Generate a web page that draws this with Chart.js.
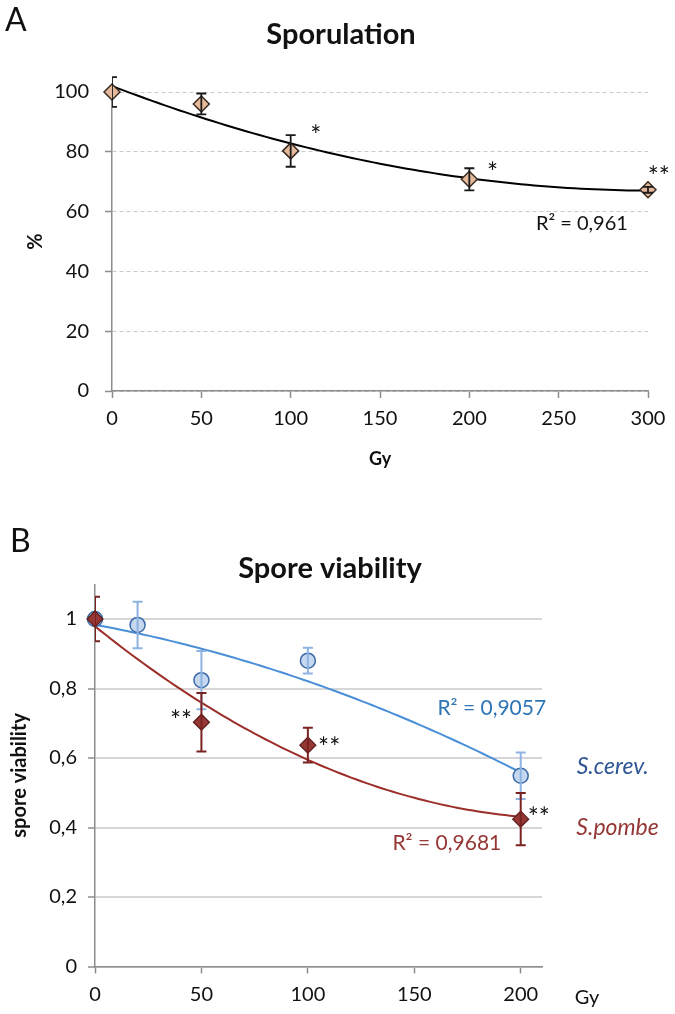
<!DOCTYPE html>
<html><head><meta charset="utf-8">
<script src="https://cdn.jsdelivr.net/npm/chart.js@4.4.1/dist/chart.umd.min.js"></script>
<style>
html,body{margin:0;padding:0;background:#fff;}
#wrap{position:relative;width:675px;height:1014px;overflow:hidden;background:#fff;}
canvas{position:absolute;left:0;}
#cA{top:0;} #cB{top:500px;}
</style></head><body>
<div id="wrap"><canvas id="cA" width="675" height="500"></canvas><canvas id="cB" width="675" height="514"></canvas></div>
<script>
// ---------- DATA ----------
const sporDose = [0, 50, 100, 200, 300];
const sporPct = [100, 96, 80.3, 70.8, 67.3];
const sporErr = [5, 3.5, 5.3, 3.7, 1];
const sporXTicks = [0, 50, 100, 150, 200, 250, 300];
const sporYTicks = [0, 20, 40, 60, 80, 100];

const cerevDose = [0, 20, 50, 100, 200];
const cerevViab = [1, 0.983, 0.824, 0.88, 0.549];
const cerevErr = [0, 0.067, 0.084, 0.037, 0.067];
const pombeDose = [0, 50, 100, 200];
const pombeViab = [1, 0.703, 0.637, 0.424];
const pombeErr = [0.064, 0.084, 0.05, 0.075];
const viabXTicks = [0, 50, 100, 150, 200];
const viabYTicks = [0, 0.2, 0.4, 0.6, 0.8, 1];

// ---------- HELPERS ----------
const FONT = 'Lato, "Open Sans", sans-serif';
function polyFit2(xs, ys) {
  const s = [0,0,0,0,0], t = [0,0,0];
  for (let i = 0; i < xs.length; i++) {
    let p = 1;
    for (let k = 0; k < 5; k++) { s[k] += p; if (k < 3) t[k] += p * ys[i]; p *= xs[i]; }
  }
  const M = [[s[0],s[1],s[2],t[0]],[s[1],s[2],s[3],t[1]],[s[2],s[3],s[4],t[2]]];
  for (let i = 0; i < 3; i++) {
    const piv = M[i][i];
    for (let j = i; j < 4; j++) M[i][j] /= piv;
    for (let r = 0; r < 3; r++) if (r !== i) { const f = M[r][i]; for (let j = i; j < 4; j++) M[r][j] -= f * M[i][j]; }
  }
  return [M[0][3], M[1][3], M[2][3]];
}
const extras = {
  id: 'extras',
  beforeDatasetsDraw(chart, args, o) {
    const ctx = chart.ctx, xs = chart.scales.x, ys = chart.scales.y;
    (o.trends || []).forEach(t => {
      const c = polyFit2(t.xs, t.ys);
      const x0 = Math.min(...t.xs), x1 = Math.max(...t.xs);
      ctx.save(); ctx.strokeStyle = t.color; ctx.lineWidth = t.width; ctx.lineJoin = 'round';
      ctx.beginPath();
      for (let i = 0; i <= 80; i++) {
        const x = x0 + (x1 - x0) * i / 80, y = c[0] + c[1]*x + c[2]*x*x;
        const px = xs.getPixelForValue(x), py = ys.getPixelForValue(y);
        i ? ctx.lineTo(px, py) : ctx.moveTo(px, py);
      }
      ctx.stroke(); ctx.restore();
    });
  },
  afterDatasetsDraw(chart, args, o) {
    const ctx = chart.ctx, xs = chart.scales.x, ys = chart.scales.y, ca = chart.chartArea;
    (o.errors || []).forEach(e => {
      ctx.save();
      ctx.beginPath(); ctx.rect(ca.left, 0, chart.width, chart.height); ctx.clip();
      ctx.strokeStyle = e.color; ctx.lineWidth = e.width;
      e.xs.forEach((x, i) => {
        if (!e.errs[i]) return;
        const px = xs.getPixelForValue(x);
        const pt = ys.getPixelForValue(e.ys[i] + e.errs[i]);
        const pb = ys.getPixelForValue(e.ys[i] - e.errs[i]);
        ctx.beginPath();
        ctx.moveTo(px, pt); ctx.lineTo(px, pb);
        ctx.moveTo(px - e.cap, pt); ctx.lineTo(px + e.cap, pt);
        ctx.moveTo(px - e.cap, pb); ctx.lineTo(px + e.cap, pb);
        ctx.stroke();
      });
      ctx.restore();
    });
  },
  afterDraw(chart, args, o) {
    const ctx = chart.ctx, xs = chart.scales.x, ys = chart.scales.y;
    (o.texts || []).forEach(t => {
      ctx.save();
      ctx.font = t.font; ctx.fillStyle = t.color || '#111';
      ctx.textAlign = t.align || 'center'; ctx.textBaseline = t.baseline || 'middle';
      const px = t.data ? xs.getPixelForValue(t.x) : t.x;
      const py = (t.data ? ys.getPixelForValue(t.y) : t.y) + (t.dy || 0);
      ctx.fillText(t.text, px, py);
      ctx.restore();
    });
  }
};
const STAR = '26px ' + FONT;

// ---------- CHART A ----------
new Chart(document.getElementById('cA'), {
  type: 'scatter',
  data: { datasets: [{
    data: sporDose.map((x, i) => ({ x, y: sporPct[i] })),
    pointStyle: 'rectRot', pointRadius: 8, pointHoverRadius: 8,
    backgroundColor: '#e4b99c', borderColor: '#3a2a1f', borderWidth: 1.5,
    showLine: false, clip: false
  }]},
  options: {
    responsive: false, animation: false, devicePixelRatio: 1, events: [],
    layout: { padding: { left: 20, right: 27, top: 92, bottom: 26 } },
    plugins: {
      legend: { display: false }, tooltip: { enabled: false },
      extras: {
        trends: [{ xs: sporDose, ys: sporPct, color: '#000', width: 2 }],
        errors: [{ xs: sporDose, ys: sporPct, errs: sporErr, color: '#1a1a1a', width: 1.8, cap: 5 }],
        texts: [
          { text: 'A', x: 5, y: 31, font: '32px ' + FONT, align: 'left', baseline: 'alphabetic', color: '#111' },
          { text: 'Sporulation', x: 341, y: 44, font: 'bold 29px ' + FONT, baseline: 'alphabetic', color: '#111' },
          { text: '*', data: true, x: 114, y: 87.3, dy: 15, baseline: 'alphabetic', font: STAR },
          { text: '*', data: true, x: 213, y: 75, dy: 15, baseline: 'alphabetic', font: STAR },
          { text: '**', data: true, x: 306, y: 73.6, dy: 15, baseline: 'alphabetic', font: STAR },
          { text: 'R\u00B2 = 0,961', data: true, x: 263, y: 56, font: '20px ' + FONT }
        ]
      }
    },
    scales: {
      x: {
        type: 'linear', min: 0, max: 300,
        afterFit(s) { s.height = 83; },
        afterBuildTicks(s) { s.ticks = sporXTicks.map(v => ({ value: v })); },
        grid: { drawOnChartArea: false, drawTicks: true, tickLength: 7, tickColor: '#8c8c8c', tickWidth: 1.5 },
        border: { color: '#8c8c8c', width: 1.5 },
        ticks: { font: { family: FONT, size: 20 }, color: '#111', padding: 9, maxRotation: 0 },
        title: { display: true, text: 'Gy', font: { family: FONT, size: 18, weight: 'bold' }, color: '#111' }
      },
      y: {
        type: 'linear', min: 0, max: 100,
        afterFit(s) { s.width = 92; },
        afterBuildTicks(s) { s.ticks = sporYTicks.map(v => ({ value: v })); },
        grid: { color: '#c9c9c9', lineWidth: 1, drawTicks: true, tickLength: 7, tickColor: '#8c8c8c', tickWidth: 1.5 },
        border: { color: '#8c8c8c', width: 1.5, dash: [4, 3] },
        ticks: { font: { family: FONT, size: 20 }, color: '#111', padding: 16 },
        title: { display: true, text: '%', font: { family: FONT, size: 20, weight: 'bold' }, color: '#111' }
      }
    }
  },
  plugins: [extras]
});

// ---------- CHART B ----------
const fmtComma = v => String(Math.round(v * 10) / 10).replace('.', ',');
new Chart(document.getElementById('cB'), {
  type: 'scatter',
  data: { datasets: [
    { label: 'S.pombe', order: 0,
      data: pombeDose.map((x, i) => ({ x, y: pombeViab[i] })),
      pointStyle: 'rectRot', pointRadius: 8, pointHoverRadius: 8,
      backgroundColor: '#953735', borderColor: '#5a1c1a', borderWidth: 1.2, showLine: false, clip: false },
    { label: 'S.cerev.', order: 1,
      data: cerevDose.map((x, i) => ({ x, y: cerevViab[i] })),
      pointStyle: 'circle', pointRadius: 7.5, pointHoverRadius: 7.5,
      backgroundColor: '#c5d8ef', borderColor: '#3b6aa6', borderWidth: 1.5, showLine: false, clip: false }
  ]},
  options: {
    responsive: false, animation: false, devicePixelRatio: 1, events: [],
    layout: { padding: { left: 4, right: 133, top: 84.25, bottom: 0 } },
    plugins: {
      legend: { display: false }, tooltip: { enabled: false },
      extras: {
        trends: [
          { xs: cerevDose, ys: cerevViab, color: '#4a8fd8', width: 2 },
          { xs: pombeDose, ys: pombeViab, color: '#9c2e2a', width: 2 }
        ],
        errors: [
          { xs: cerevDose, ys: cerevViab, errs: cerevErr, color: '#8db3e2', width: 2, cap: 5 },
          { xs: pombeDose, ys: pombeViab, errs: pombeErr, color: '#7a2220', width: 2, cap: 5 }
        ],
        texts: [
          { text: 'B', x: 10, y: 52, font: '32px ' + FONT, align: 'left', baseline: 'alphabetic', color: '#111' },
          { text: 'Spore viability', x: 330, y: 78, font: 'bold 29px ' + FONT, baseline: 'alphabetic', color: '#111' },
          { text: 'Gy', x: 587, y: 498, font: '20px ' + FONT, color: '#111' },
          { text: '**', data: true, x: 40.4, y: 0.724, dy: 15, baseline: 'alphabetic', font: STAR },
          { text: '**', data: true, x: 110, y: 0.646, dy: 15, baseline: 'alphabetic', font: STAR },
          { text: '**', data: true, x: 208.5, y: 0.445, dy: 15, baseline: 'alphabetic', font: STAR },
          { text: 'R\u00B2 = 0,9057', data: true, x: 186.4, y: 0.744, font: '21px ' + FONT, color: '#2e75b6' },
          { text: 'R\u00B2 = 0,9681', data: true, x: 165.3, y: 0.355, font: '21px ' + FONT, color: '#953735' },
          { text: 'S.cerev.', data: true, x: 243.2, y: 0.574, font: 'italic 23px ' + FONT, color: '#2f5597' },
          { text: 'S.pombe', data: true, x: 245.5, y: 0.401, font: 'italic 23px ' + FONT, color: '#953735' }
        ]
      }
    },
    scales: {
      x: {
        type: 'linear', min: 0, max: 210,
        afterFit(s) { s.height = 47.5; },
        afterBuildTicks(s) { s.ticks = viabXTicks.map(v => ({ value: v })); },
        grid: { drawOnChartArea: false, drawTicks: true, tickLength: 7, tickColor: '#8c8c8c', tickWidth: 1.5 },
        border: { color: '#8c8c8c', width: 1.5 },
        ticks: { font: { family: FONT, size: 20 }, color: '#111', padding: 9, maxRotation: 0 }
      },
      y: {
        type: 'linear', min: 0, max: 1.1,
        afterFit(s) { s.width = 91; },
        afterBuildTicks(s) { s.ticks = viabYTicks.map(v => ({ value: v })); },
        grid: { color: '#d6d6d6', lineWidth: 2, drawTicks: true, tickLength: 7, tickColor: '#8c8c8c', tickWidth: 1.5 },
        border: { color: '#8c8c8c', width: 1.5 },
        ticks: { font: { family: FONT, size: 20 }, color: '#111', padding: 11, callback: fmtComma },
        title: { display: true, text: 'spore viability', font: { family: FONT, size: 20, weight: 'bold' }, color: '#111' }
      }
    }
  },
  plugins: [extras]
});
</script>
</body></html>
